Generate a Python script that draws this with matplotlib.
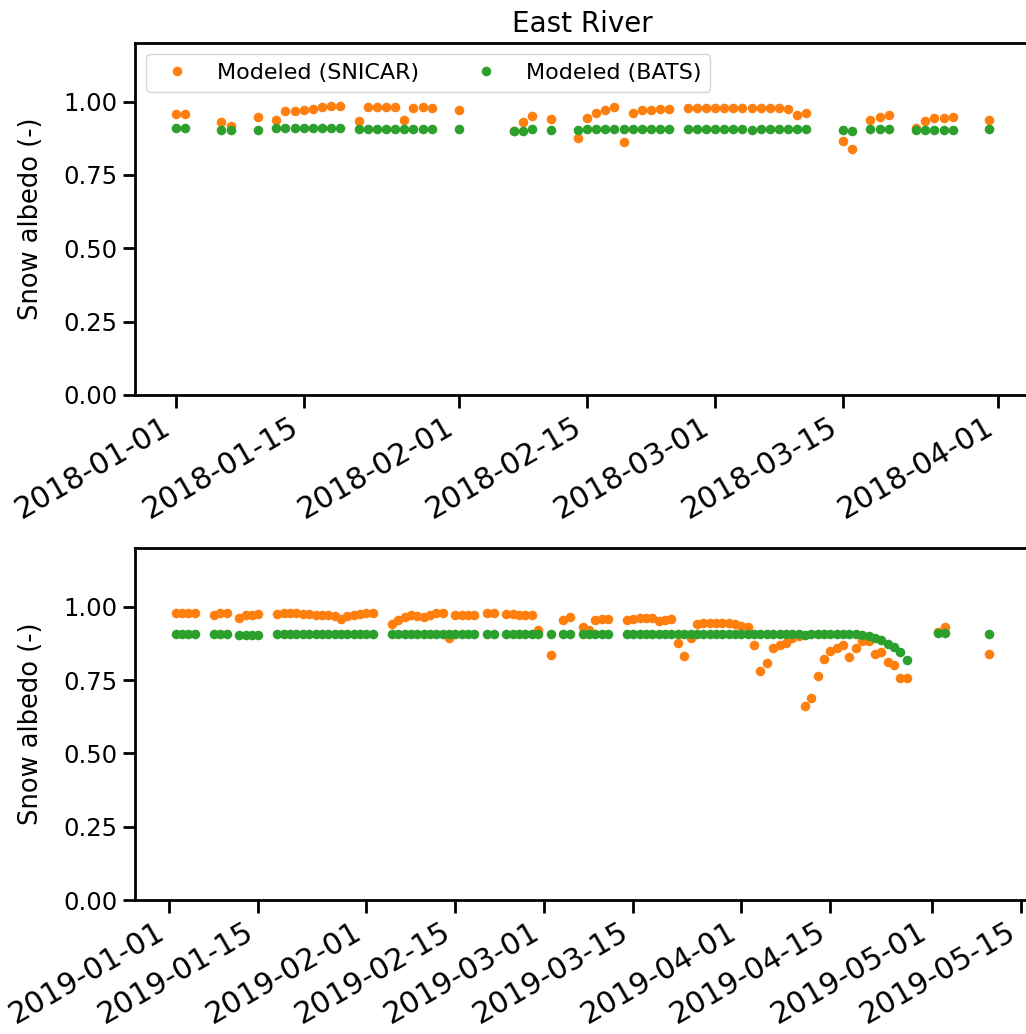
import numpy as np
import pandas as pd
import matplotlib
matplotlib.use("Agg")
import matplotlib.pyplot as plt
import matplotlib.dates as mdates
from matplotlib.ticker import FixedLocator, FormatStrFormatter

# ---------------- data ----------------
start_2018 = "2018-01-01"
days_2018 = [0, 1, 5, 6, 9,
             11, 12, 13, 14, 15, 16, 17, 18,
             20, 21, 22, 23, 24, 25, 26, 27, 28,
             31, 37, 38, 39, 41,
             44, 45, 46, 47, 48, 49, 50, 51, 52, 53, 54,
             56, 57, 58, 59, 60, 61, 62, 63, 64, 65, 66, 67, 68, 69,
             73, 74, 76, 77, 78,
             81, 82, 83, 84, 85, 89]
snicar_2018 = [0.958, 0.958, 0.930, 0.918, 0.948,
               0.938, 0.967, 0.967, 0.970, 0.975, 0.982, 0.984, 0.984,
               0.933, 0.982, 0.982, 0.982, 0.982, 0.936, 0.980, 0.982, 0.980,
               0.970, 0.900, 0.930, 0.952, 0.941,
               0.876, 0.944, 0.963, 0.970, 0.982, 0.861, 0.961, 0.970, 0.972, 0.975, 0.975,
               0.978, 0.978, 0.978, 0.978, 0.978, 0.978, 0.978, 0.978, 0.978, 0.978, 0.978, 0.975, 0.956, 0.961,
               0.865, 0.838, 0.939, 0.948, 0.956,
               0.910, 0.933, 0.944, 0.944, 0.948, 0.936]
bats_2018 = [0.910, 0.910, 0.902, 0.902, 0.902,
             0.910, 0.910, 0.910, 0.910, 0.910, 0.910, 0.910, 0.910,
             0.907, 0.907, 0.907, 0.907, 0.907, 0.907, 0.907, 0.907, 0.907,
             0.906, 0.899, 0.899, 0.907, 0.905,
             0.905, 0.906, 0.906, 0.906, 0.906, 0.906, 0.906, 0.906, 0.906, 0.906, 0.906,
             0.906, 0.906, 0.906, 0.906, 0.906, 0.906, 0.906, 0.902, 0.906, 0.906, 0.906, 0.906, 0.906, 0.906,
             0.902, 0.899, 0.906, 0.906, 0.906,
             0.905, 0.905, 0.905, 0.905, 0.905, 0.906]

start_2019 = "2019-01-01"
days_2019 = [1, 2, 3, 4, 7, 8, 9, 11, 12, 13, 14,
             17, 18, 19, 20, 21, 22, 23, 24, 25, 26, 27, 28, 29, 30, 31, 32,
             35, 36, 37, 38, 39, 40, 41, 42, 43, 44, 45, 46, 47, 48,
             50, 51, 53, 54, 55, 56, 57, 58, 60, 62, 63,
             65, 66, 67, 68, 69,
             72, 73, 74, 75, 76, 77, 78, 79, 80, 81, 82, 83, 84, 85, 86, 87, 88, 89, 90, 91,
             92, 93, 94, 95, 96, 97, 98, 99, 100, 101, 102, 103, 104, 105, 106, 107,
             108, 109, 110, 111, 112, 113, 114, 115, 116,
             121, 122, 129]
snicar_2019 = [0.978, 0.978, 0.978, 0.978, 0.973, 0.978, 0.978, 0.961, 0.970, 0.973, 0.975,
               0.976, 0.978, 0.980, 0.978, 0.976, 0.975, 0.973, 0.972, 0.970, 0.967, 0.958, 0.967, 0.973, 0.976, 0.978, 0.978,
               0.941, 0.956, 0.964, 0.970, 0.967, 0.964, 0.973, 0.978, 0.980, 0.893, 0.970, 0.972, 0.973, 0.973,
               0.980, 0.980, 0.975, 0.975, 0.973, 0.973, 0.970, 0.921, 0.834, 0.956, 0.965,
               0.930, 0.921, 0.955, 0.958, 0.958,
               0.956, 0.959, 0.961, 0.961, 0.961, 0.952, 0.955, 0.959, 0.876, 0.833, 0.893, 0.940, 0.944, 0.946, 0.946, 0.944, 0.944, 0.940, 0.933, 0.930,
               0.870, 0.779, 0.808, 0.859, 0.868, 0.876, 0.893, 0.900, 0.662, 0.688, 0.762, 0.821, 0.848, 0.859, 0.870, 0.830,
               0.859, 0.882, 0.882, 0.838, 0.845, 0.813, 0.802, 0.757, 0.757,
               0.915, 0.930, 0.840]
bats_2019 = [0.907, 0.907, 0.907, 0.907, 0.907, 0.907, 0.907, 0.905, 0.905, 0.905, 0.905,
             0.907, 0.907, 0.907, 0.907, 0.907, 0.907, 0.907, 0.907, 0.907, 0.907, 0.907, 0.907, 0.907, 0.907, 0.907, 0.907,
             0.907, 0.907, 0.907, 0.907, 0.907, 0.907, 0.907, 0.907, 0.907, 0.907, 0.907, 0.907, 0.907, 0.907,
             0.907, 0.907, 0.907, 0.907, 0.907, 0.907, 0.907, 0.907, 0.907, 0.907, 0.907,
             0.908, 0.908, 0.908, 0.908, 0.908,
             0.908, 0.908, 0.908, 0.908, 0.908, 0.908, 0.908, 0.908, 0.908, 0.908, 0.908, 0.908, 0.908, 0.908, 0.908, 0.908, 0.908, 0.908, 0.908, 0.908,
             0.908, 0.908, 0.908, 0.908, 0.908, 0.908, 0.908, 0.908, 0.902, 0.908, 0.908, 0.908, 0.908, 0.908, 0.908, 0.907,
             0.906, 0.903, 0.899, 0.893, 0.885, 0.874, 0.861, 0.845, 0.817,
             0.910, 0.910, 0.908]

title = "East River"
ylabel = "Snow albedo (-)"
labels = ["Modeled (SNICAR)", "Modeled (BATS)"]
yticks = [0.0, 0.25, 0.5, 0.75, 1.0]

# ---------------- figure ----------------
W, H = 1026, 1034
fig = plt.figure(figsize=(W / 100, H / 100), dpi=100)
plt.rcParams['font.family'] = ['DejaVu Sans']

def fx(px):
    return px / W

def fy(py):
    return 1 - py / H

left_px, right_px = 135, 1030
axes_pos = [(43, 395), (548, 900)]
axs = []
for top, bot in axes_pos:
    ax = fig.add_axes([fx(left_px), fy(bot), fx(right_px - left_px), (bot - top) / H])
    axs.append(ax)

orange = "#ff7f0e"
green = "#2ca02c"
ms = 6.9

datasets = [(start_2018, days_2018, snicar_2018, bats_2018),
            (start_2019, days_2019, snicar_2019, bats_2019)]
for ax, (st, dd, sn, bt) in zip(axs, datasets):
    dates = pd.Timestamp(st) + pd.to_timedelta(dd, unit="D")
    ax.plot(dates, sn, "o", color=orange, ms=ms, mec="none", label=labels[0])
    ax.plot(dates, bt, "o", color=green, ms=ms, mec="none", label=labels[1])
    ax.set_ylim(0, 1.2)
    ax.yaxis.set_major_locator(FixedLocator(yticks))
    ax.yaxis.set_major_formatter(FormatStrFormatter("%.2f"))
    ax.xaxis.set_major_locator(mdates.DayLocator(bymonthday=[1, 15]))
    ax.xaxis.set_major_formatter(mdates.DateFormatter("%Y-%m-%d"))
    ax.set_ylabel(ylabel, fontsize=18.5, labelpad=14)
    ax.tick_params(axis="both", which="major", length=9, width=2)
    ax.tick_params(axis="y", labelsize=17.5)
    ax.tick_params(axis="x", labelsize=21.5)
    for lab in ax.get_xticklabels():
        lab.set_rotation(30)
        lab.set_ha("right")
    for sp in ax.spines.values():
        sp.set_linewidth(2)

axs[0].set_title(title, fontsize=20, pad=8)
axs[0].legend(loc="upper left", ncol=2, fontsize=16, frameon=True)

fig.savefig("out.png", dpi=100)
